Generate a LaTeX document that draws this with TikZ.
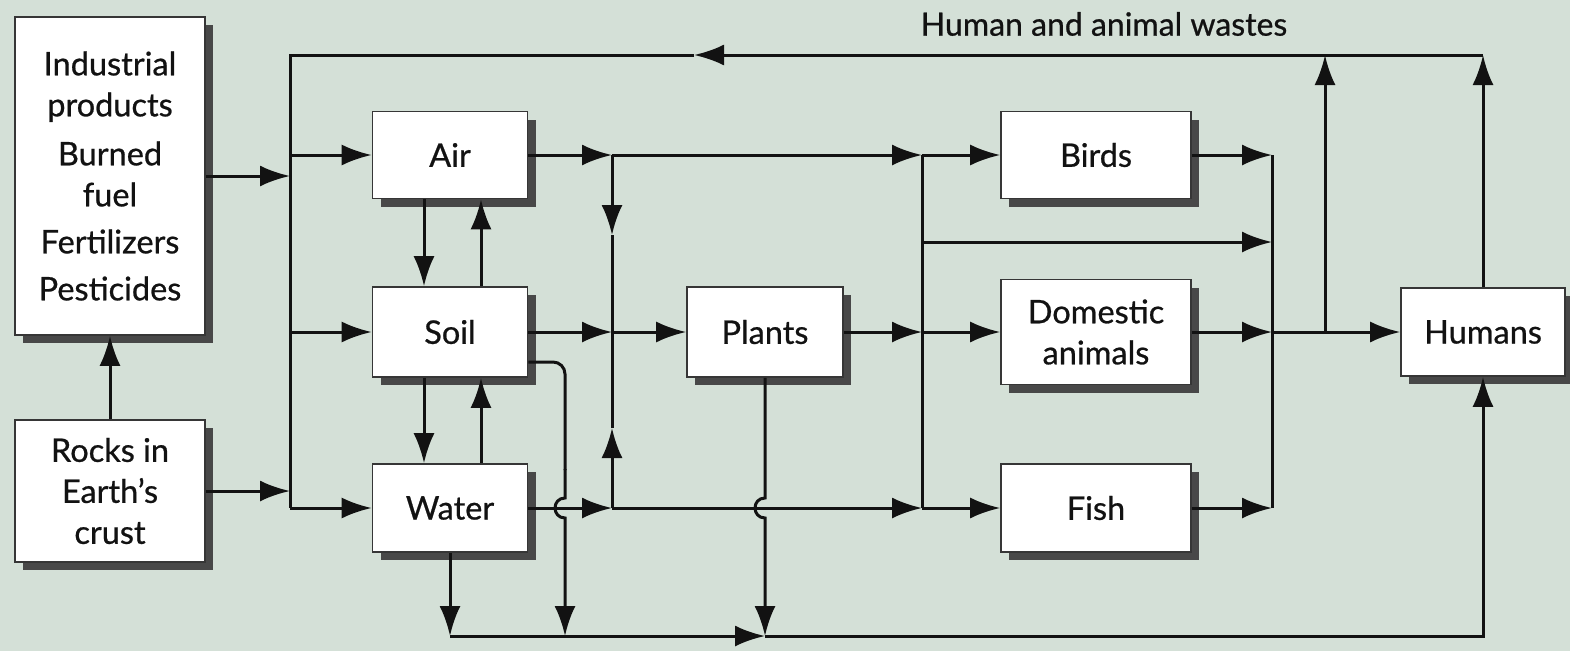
\documentclass[tikz,border=0pt]{standalone}
\usepackage{fontspec}
\setmainfont{Lato}
\newfontfamily\medfont{Lato}[FakeBold=0.7,Ligatures=TeX]
\usetikzlibrary{arrows.meta,shadows,calc}
\definecolor{bg}{RGB}{212,224,215}
\definecolor{shad}{RGB}{72,72,72}
\definecolor{ink}{RGB}{18,18,18}
\begin{document}
\begin{tikzpicture}[x=1pt,y=-1pt,
  box/.style={draw=ink!85, line width=1.6pt, fill=white, text=ink, align=center,
    inner sep=0pt, font=\medfont\fontsize{32.5}{41}\selectfont,
    general shadow={fill=shad, shadow xshift=8pt, shadow yshift=-8pt}},
  wire/.style={draw=ink, line width=3pt},
  arr/.style={wire, -{Latex[length=30pt,width=21pt]}}]
\fill[bg] (0,0) rectangle (1570,651);
\useasboundingbox (0,0) rectangle (1570,651);

% boxes
\node[box, minimum width=190pt, minimum height=318pt] (ind) at (110,176)
  {Industrial\\ products\\[8pt] Burned\\ fuel\\[6pt] Fertilizers\\[6pt] Pesticides};
\node[box, minimum width=190pt, minimum height=142pt] (rocks) at (110,491)
  {Rocks in\\ Earth’s\\ crust};
\node[box, minimum width=155pt, minimum height=87pt] (air) at (450,155) {Air};
\node[box, minimum width=155pt, minimum height=90pt] (soil) at (450,332) {Soil};
\node[box, minimum width=155pt, minimum height=88pt] (water) at (450,508) {Water};
\node[box, minimum width=156pt, minimum height=90pt] (plants) at (765,332) {Plants};
\node[box, minimum width=190pt, minimum height=87pt] (birds) at (1096,155) {Birds};
\node[box, minimum width=190pt, minimum height=105pt] (dom) at (1096,332) {Domestic\\ animals};
\node[box, minimum width=190pt, minimum height=88pt] (fish) at (1096,508) {Fish};
\node[box, minimum width=164pt, minimum height=88pt] (hu) at (1483,332) {Humans};

\node[text=ink, font=\medfont\fontsize{32}{36}\selectfont] (lbl) at (1104,24) {Human and animal wastes};

% coordinates
\coordinate (tl) at (290,55);
\coordinate (ta) at (694,55);
\coordinate (tm) at (1325,55);
\coordinate (th) at (1483,55);
\coordinate (bi) at (290,176);
\coordinate (br) at (290,491);
\coordinate (b1) at (290,155);
\coordinate (b2) at (290,332);
\coordinate (b3) at (290,508);
\coordinate (j1) at (612,155);
\coordinate (jd) at (612,235);
\coordinate (j2) at (612,332);
\coordinate (ju) at (612,428);
\coordinate (j3) at (612,508);
\coordinate (k1) at (922,155);
\coordinate (kx) at (922,242);
\coordinate (k2) at (922,332);
\coordinate (k3) at (922,508);
\coordinate (mx) at (1272,242);
\coordinate (m1) at (1272,155);
\coordinate (m2) at (1272,332);
\coordinate (m3) at (1272,508);
\coordinate (n2) at (1325,332);
\coordinate (w4) at (450,636);
\coordinate (s4) at (565,636);
\coordinate (p4) at (765,636);

% waste loop and left bus
\draw[arr] (hu.north) -- (th);
\draw[arr] (th) -- (ta);
\draw[wire] (ta) -- (tl) -- (b3);
\draw[arr] (n2) -- (tm);

% inputs
\draw[arr] (ind.east) -- (bi);
\draw[arr] (rocks.east) -- (br);
\draw[arr] (rocks.north) -- (ind.south);
\draw[arr] (b1) -- (air.west);
\draw[arr] (b2) -- (soil.west);
\draw[arr] (b3) -- (water.west);

% air/soil/water exchanges
\draw[arr] ($(air.south)+(-26,0)$) -- ($(soil.north)+(-26,0)$);
\draw[arr] ($(soil.north)+(31,0)$) -- ($(air.south)+(31,0)$);
\draw[arr] ($(soil.south)+(-26,0)$) -- ($(water.north)+(-26,0)$);
\draw[arr] ($(water.north)+(31,0)$) -- ($(soil.south)+(31,0)$);

% middle column
\draw[arr] (air.east) -- (j1);
\draw[arr] (j1) -- (k1);
\draw[arr] (j1) -- (jd);
\draw[wire] (jd) -- (j2);
\draw[arr] (j3) -- (ju);
\draw[wire] (ju) -- (j2);
\draw[arr] (soil.east) -- (j2);
\draw[arr] (j2) -- (plants.west);
\draw[arr] (water.east) -- (j3);
\draw[arr] (j3) -- (k3);
\draw[arr] (plants.east) -- (k2);

% animals column
\draw[wire] (k1) -- (k3);
\draw[arr] (k1) -- (birds.west);
\draw[arr] (kx) -- (mx);
\draw[arr] (k2) -- (dom.west);
\draw[arr] (k3) -- (fish.west);
\draw[arr] (birds.east) -- (m1);
\draw[arr] (dom.east) -- (m2);
\draw[arr] (fish.east) -- (m3);
\draw[wire] (m1) -- (m3);
\draw[arr] (m2) -- (hu.west);

% bottom line
\draw[arr] (water.south) -- (w4);
\draw[arr] (w4) -- (p4);
\draw[arr] (p4) -| (hu.south);
\draw[wire, rounded corners=12pt] ($(soil.east)+(0,30)$) -- (565,362) -- (565,470);
\draw[arr] (565,469) -- (565,498) .. controls (551.7,498) and (551.7,518) .. (565,518) -- (s4);
\draw[arr] (plants.south) -- (765,498) .. controls (751.7,498) and (751.7,518) .. (765,518) -- (p4);
\end{tikzpicture}
\end{document}
